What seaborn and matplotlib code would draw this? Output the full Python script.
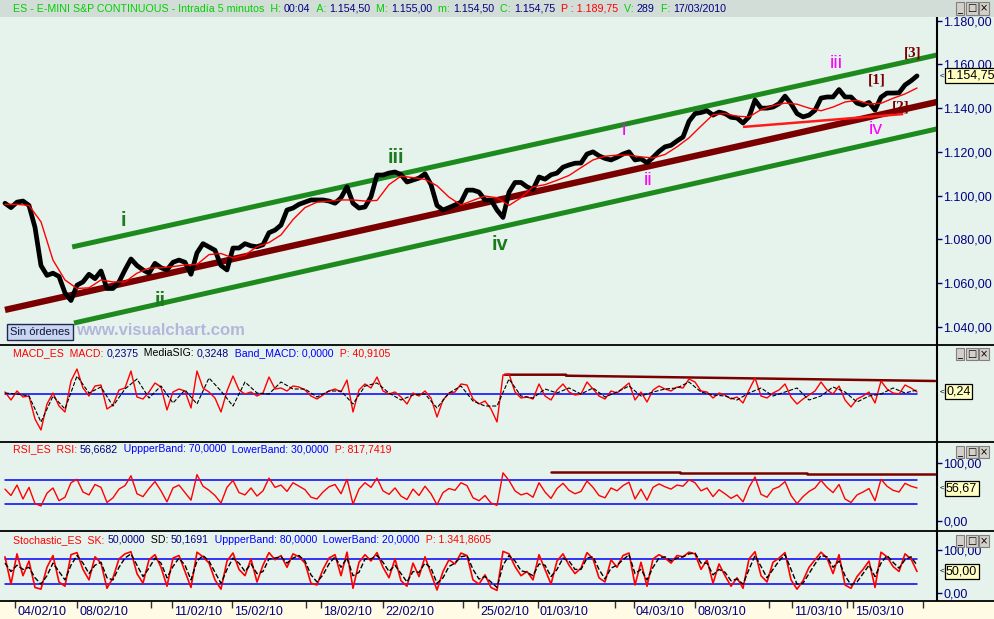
import numpy as np
import matplotlib
matplotlib.use("Agg")
import matplotlib.pyplot as plt
import seaborn as sns
from matplotlib.ticker import FuncFormatter
from matplotlib.text import Annotation
from matplotlib.lines import Line2D
from matplotlib.patches import Rectangle
import matplotlib.transforms as mtrans

# ---- data (one bar = 6 px, 5-minute ES bars) ----
close = [1096.5, 1094.5, 1097.0, 1097.5, 1095.5, 1085.5, 1068.0, 1063.5, 1064.5, 1063.0,
         1055.5, 1052.0, 1059.0, 1060.5, 1064.0, 1062.0, 1065.5, 1057.5, 1057.5, 1060.5,
         1066.0, 1071.0, 1068.0, 1066.0, 1064.5, 1069.0, 1067.0, 1066.0, 1069.5, 1070.5,
         1069.5, 1064.0, 1073.8, 1078.0, 1076.5, 1075.0, 1068.0, 1066.0, 1076.0, 1076.0,
         1078.0, 1077.0, 1076.6, 1077.5, 1083.0, 1084.2, 1086.5, 1093.4, 1094.3, 1096.0,
         1097.0, 1098.0, 1098.0, 1098.0, 1097.5, 1096.5, 1099.0, 1104.0, 1096.5, 1094.3,
         1094.8, 1099.5, 1109.4, 1109.4, 1110.3, 1110.8, 1109.6, 1106.2, 1107.1, 1108.0,
         1110.0, 1105.0, 1095.5, 1093.4, 1094.5, 1095.7, 1097.0, 1102.5, 1102.5, 1101.6,
         1098.0, 1098.0, 1093.4, 1090.0, 1101.5, 1106.0, 1106.0, 1104.0, 1102.8, 1108.5,
         1107.5, 1109.5, 1110.3, 1113.0, 1114.0, 1114.8, 1114.9, 1119.0, 1120.0, 1118.2,
         1117.0, 1116.3, 1117.5, 1119.0, 1120.0, 1116.3, 1116.8, 1115.0, 1117.5, 1120.2,
         1122.3, 1123.0, 1125.0, 1126.8, 1134.0, 1137.5, 1138.0, 1138.8, 1136.8, 1138.2,
         1137.5, 1135.8, 1135.5, 1133.2, 1136.0, 1143.7, 1140.0, 1140.0, 1140.5, 1142.0,
         1145.5, 1142.0, 1137.5, 1136.0, 1136.8, 1139.0, 1144.6, 1145.1, 1145.1, 1148.5,
         1145.1, 1145.1, 1142.3, 1141.4, 1142.6, 1139.1, 1145.0, 1146.9, 1146.9, 1147.0,
         1150.6, 1152.5, 1154.75]

# moving average, read every second bar
avg = [1096.0, 1096.0, 1095.5, 1088.0, 1070.5, 1061.4, 1057.5, 1057.8, 1061.4, 1060.5,
       1060.5, 1064.5, 1066.8, 1067.0, 1067.5, 1068.3, 1068.5, 1073.0, 1073.5, 1071.5,
       1072.8, 1076.6, 1078.5, 1082.0, 1089.0, 1094.5, 1097.0, 1097.5, 1098.0, 1098.0,
       1097.5, 1097.8, 1105.0, 1108.9, 1108.2, 1107.4, 1104.5, 1099.3, 1095.7, 1097.8,
       1099.8, 1099.0, 1095.5, 1099.0, 1104.0, 1105.0, 1107.0, 1109.2, 1112.8, 1116.3,
       1118.0, 1118.5, 1118.5, 1117.7, 1117.2, 1118.8, 1122.3, 1126.4, 1131.8, 1137.0,
       1137.5, 1136.3, 1136.0, 1139.3, 1141.1, 1142.3, 1141.8, 1140.0, 1138.8, 1140.5,
       1142.8, 1143.6, 1141.9, 1142.2, 1144.5, 1146.5, 1149.2]

macd = [0.2, -0.6, 0.3, -0.3, -0.2, -2.5, -3.6, -1.0, 0.1, -1.2,
        -1.8, 1.3, 2.5, 0.6, -0.2, 0.8, 0.9, -1.5, -1.1, 0.4,
        0.6, 2.3, -0.3, -0.5, 0.2, 1.1, 0.7, -1.6, 0.2, 0.5,
        0.3, -1.4, 2.3, 0.6, 0.2, -0.4, -1.8, 0.3, 1.8, 0.4,
        0.0, 0.2, -0.2, 0.1, 1.7, 0.5, 0.6, 0.3, 0.8, 0.7,
        0.4, -0.2, -0.5, -0.1, 0.3, 0.5, 0.2, 1.4, -1.8, 0.4,
        1.0, 0.6, 1.7, 0.3, 0.0, 0.2, -0.3, -1.0, 0.1, -0.2,
        0.3, -0.4, -2.3, -0.6, 0.1, 0.2, 1.0, 0.9, -0.5, -1.0,
        -0.7, -1.5, -2.8, 1.9, 2.0, 0.2, -0.4, -0.3, -0.5, 1.0,
        -0.2, -0.6, 0.4, 1.0, 0.2, -0.1, 0.0, 1.2, 0.5, -0.2,
        -0.5, 0.3, 0.1, 0.6, 1.1, -0.6, 0.2, -0.8, 0.4, 0.8,
        0.5, 0.3, 0.7, 0.6, 1.5, 1.2, 0.3, 0.2, -0.4, 0.1,
        -0.1, -0.5, -0.3, -0.9, 0.4, 1.6, -0.2, -0.4, 0.1, 0.4,
        1.0, -0.3, -1.0, -0.5, -0.1, 0.3, 1.2, 0.4, 0.0, 0.8,
        -0.6, -1.3, -0.5, -0.2, 0.2, -0.9, 1.3, 0.5, 0.1, 0.0,
        0.9, 0.6, 0.2]

# signal line, read every second bar
macd_sig = [0.1, 0.0, -0.2, -2.8, -0.2, -1.5, 1.8, 0.1, 0.7, -1.2,
            0.5, 1.5, -0.4, 0.8, -0.9, 0.4, -1.0, 1.6, 0.3, -1.2,
            1.2, 0.1, 0.0, 1.2, 0.5, 0.5, -0.3, 0.3, 0.3, -1.0,
            0.8, 1.1, 0.1, -0.6, -0.1, 0.0, -1.4, 0.1, 0.8, -0.7,
            -1.2, -1.2, 1.5, -0.2, -0.4, 0.5, 0.1, 0.6, 0.0, 0.6,
            -0.3, 0.2, 0.8, -0.2, 0.2, 0.5, 0.6, 1.2, 0.2, -0.1,
            -0.2, -0.6, 0.1, 0.6, -0.2, 0.2, 0.6, -0.6, -0.2, 0.7,
            0.2, -0.8, -0.2, 0.0, 0.6, 0.1, 0.4]

rsi = [55, 44, 62, 38, 58, 30, 26, 48, 57, 35,
       41, 66, 72, 50, 45, 63, 58, 32, 40, 55,
       61, 78, 47, 42, 56, 68, 52, 33, 57, 62,
       49, 36, 80, 60, 53, 44, 31, 58, 70, 49,
       45, 57, 43, 52, 74, 58, 62, 51, 66, 60,
       54, 41, 38, 50, 59, 63, 47, 72, 29, 55,
       66, 58, 74, 52, 46, 57, 43, 37, 55, 44,
       60, 47, 28, 49, 56, 53, 66, 61, 40, 35,
       44, 31, 27, 83, 70, 52, 45, 48, 41, 66,
       50, 39, 56, 65, 53, 47, 51, 69, 58, 44,
       40, 57, 52, 61, 67, 38, 55, 36, 58, 64,
       59, 55, 62, 60, 71, 66, 52, 57, 42, 54,
       47, 39, 45, 33, 58, 76, 46, 41, 55, 59,
       68, 44, 30, 42, 51, 57, 70, 58, 49, 63,
       38, 32, 45, 50, 56, 35, 72, 60, 53, 50,
       65, 60, 57]

stoch_k = [85, 20, 92, 40, 75, 12, 8, 60, 88, 25,
           15, 90, 95, 55, 30, 85, 70, 10, 35, 80,
           92, 97, 45, 22, 78, 90, 60, 15, 82, 88,
           50, 12, 96, 85, 70, 30, 8, 75, 94, 55,
           40, 80, 25, 65, 95, 78, 88, 60, 92, 85,
           70, 22, 18, 55, 82, 90, 40, 96, 10, 72,
           90, 75, 95, 60, 35, 80, 28, 15, 70, 38,
           85, 45, 6, 50, 78, 68, 94, 88, 30, 20,
           42, 12, 5, 98, 92, 62, 40, 50, 30, 90,
           55, 20, 75, 92, 65, 45, 58, 95, 80, 35,
           25, 78, 60, 88, 94, 18, 72, 15, 80, 90,
           82, 70, 88, 85, 96, 92, 55, 78, 22, 68,
           40, 15, 35, 10, 80, 97, 40, 25, 72, 82,
           95, 30, 8, 28, 60, 78, 96, 82, 45, 90,
           18, 10, 38, 55, 75, 12, 96, 85, 62, 50,
           92, 80, 50]

stoch_d = [70, 50, 65, 55, 60, 35, 20, 40, 70, 50,
           30, 65, 88, 70, 45, 65, 72, 35, 30, 60,
           82, 92, 65, 38, 58, 82, 70, 35, 62, 82,
           65, 30, 75, 88, 75, 48, 22, 55, 82, 70,
           50, 68, 45, 50, 80, 82, 85, 70, 82, 88,
           75, 42, 25, 42, 68, 85, 60, 82, 40, 48,
           80, 80, 88, 72, 50, 65, 45, 25, 50, 48,
           70, 58, 22, 35, 62, 70, 85, 88, 55, 32,
           38, 25, 12, 65, 88, 75, 52, 48, 40, 68,
           65, 38, 55, 82, 75, 55, 55, 82, 85, 55,
           32, 58, 65, 78, 90, 45, 55, 30, 60, 82,
           85, 75, 82, 85, 92, 94, 70, 70, 42, 55,
           48, 28, 32, 20, 55, 88, 62, 35, 55, 75,
           90, 55, 20, 22, 45, 68, 88, 85, 60, 75,
           40, 18, 25, 45, 65, 38, 70, 88, 72, 58,
           78, 85, 65]

# channel lines and support (bar index, price)
chan_top_x, chan_top_y = [11.2, 155.3], [1076.5, 1164.3]
chan_mid_x, chan_mid_y = [0.0, 155.3], [1047.7, 1142.8]
chan_bot_x, chan_bot_y = [11.5, 155.3], [1041.7, 1130.5]
support_x, support_y = [123.0, 149.7], [1131.4, 1137.3]
macd_res_x, macd_res_y = [83.3, 93.5, 93.5, 155.0], [1.93, 1.93, 1.83, 1.3]
rsi_res_x, rsi_res_y = [91.0, 112.5, 112.5, 133.7, 133.7, 155.0], [85.0, 85.0, 83.3, 83.3, 81.6, 81.6]

wave_txt = ['i', 'ii', 'iii', 'iv', 'i', 'ii', 'iii', 'iv', '[1]', '[2]', '[3]']
wave_x = [19.7, 25.8, 65.2, 82.5, 103.2, 107.2, 138.5, 145.2, 145.3, 149.3, 151.3]
wave_y = [1088.8, 1052.2, 1117.2, 1077.4, 1129.6, 1106.7, 1160.2, 1130.0, 1152.9, 1140.5, 1165.2]
wave_kind = ['g', 'g', 'g', 'g', 'm', 'm', 'm', 'm', 'r', 'r', 'r']

date_ticks = [1.7, 12.0, 27.8, 37.8, 52.7, 63.0, 78.8, 88.8, 104.8, 115.0, 131.2, 141.3]
date_labels = ['04/02/10', '08/02/10', '11/02/10', '15/02/10', '18/02/10', '22/02/10',
               '25/02/10', '01/03/10', '04/03/10', '08/03/10', '11/03/10', '15/03/10']
date_minor = [24.3, 50.2, 76.3, 101.7, 127.3, 140.3, 153.0]

# ---- style ----
sns.set_style("white")
plt.rcParams['font.family'] = ['Liberation Sans', 'DejaVu Sans']

W, H = 994, 619
BG = '#e6f3ed'
NAVY = '#000080'
GREEN = '#00d000'
RED = '#ff0000'
BLUE = '#0000ff'
MAROON = '#7a0000'
CH_GREEN = '#1c8a1c'

fig = plt.figure(figsize=(W / 100, H / 100), dpi=100, facecolor=BG)


def box(top, bottom, left=0, right=937):
    return [left / W, 1 - bottom / H, (right - left) / W, (bottom - top) / H]


def es_fmt(v, dec=2):
    s = f"{v:,.{dec}f}"
    return s.replace(',', 'X').replace('.', ',').replace('X', '.')


ax = fig.add_axes(box(17, 345))
ax_macd = fig.add_axes(box(345, 442))
ax_rsi = fig.add_axes(box(442, 531))
ax_st = fig.add_axes(box(531, 601))
ax_dt = fig.add_axes(box(601, 619, 0, 994))

xlim = (-0.83, 155.33)
for a in (ax, ax_macd, ax_rsi, ax_st):
    a.set_facecolor(BG)
    a.set_xlim(*xlim)
    a.set_xticks([])
    for s in ('left', 'top', 'bottom'):
        a.spines[s].set_visible(False)
    a.spines['right'].set_color('black')
    a.spines['right'].set_linewidth(1.5)
    a.yaxis.tick_right()
    a.tick_params(axis='y', direction='out', length=3.5, width=1, colors=NAVY,
                  labelsize=9, pad=1, labelcolor=NAVY)

idx = np.arange(len(close))
idx2 = np.arange(len(avg)) * 2

# ---- main price panel ----
ax.plot(chan_mid_x, chan_mid_y, color=MAROON, lw=4.6, solid_capstyle='butt')
ax.plot(chan_top_x, chan_top_y, color=CH_GREEN, lw=3.6, solid_capstyle='butt')
ax.plot(chan_bot_x, chan_bot_y, color=CH_GREEN, lw=3.6, solid_capstyle='butt')
ax.plot(support_x, support_y, color='#ff1a1a', lw=1.8, solid_capstyle='butt')
sns.lineplot(x=idx, y=close, ax=ax, color='black', lw=3.4, estimator=None, sort=False, legend=False)
sns.lineplot(x=idx2, y=avg, ax=ax, color='#ff0000', lw=1.0, estimator=None, sort=False, legend=False)
ax.set_ylim(1031.65, 1181.69)
ax.set_yticks(np.arange(1040, 1181, 20))
ax.yaxis.set_major_formatter(FuncFormatter(lambda v, p: es_fmt(v)))
ax.set_xlabel('')
ax.set_ylabel('')

styles = {
    'g': dict(color='#1e7a1e', fontsize=14.5, fontweight='bold'),
    'm': dict(color='#ff00ff', fontsize=14),
    'r': dict(color=MAROON, fontsize=11, fontweight='bold', family='Liberation Serif'),
}
for t, x, y, k in zip(wave_txt, wave_x, wave_y, wave_kind):
    ax.text(x, y, t, ha='center', va='center', **styles[k])

ax.text(10 / 937, (345 - 332) / 328, 'Sin órdenes', transform=ax.transAxes, fontsize=8,
        color='#101040', va='center', ha='left',
        bbox=dict(boxstyle='square,pad=0.25', fc='#c8d6f0', ec='#202850', lw=1))
ax.text(76 / 937, (345 - 330) / 328, 'www.visualchart.com', transform=ax.transAxes,
        fontsize=12, fontweight='bold', color='#b3b7dc', va='center', ha='left')

# ---- MACD panel ----
ax_macd.plot(macd_res_x, macd_res_y, color=MAROON, lw=1.8)
ax_macd.plot([0, len(macd) - 1], [0, 0], color=BLUE, lw=1.1)
sns.lineplot(x=idx, y=macd, ax=ax_macd, color=RED, lw=1.0, estimator=None, sort=False, legend=False)
sns.lineplot(x=idx2, y=macd_sig, ax=ax_macd, color='black', lw=0.8, estimator=None, sort=False,
             legend=False, linestyle='--')
ax_macd.set_ylim(-4.8, 4.9)
ax_macd.set_yticks([])
ax_macd.set_xlabel('')
ax_macd.set_ylabel('')

# ---- RSI panel ----
ax_rsi.plot(rsi_res_x, rsi_res_y, color=MAROON, lw=1.8)
for lvl in (70, 30):
    ax_rsi.plot([0, len(rsi) - 1], [lvl, lvl], color=BLUE, lw=1.1)
sns.lineplot(x=idx, y=rsi, ax=ax_rsi, color=RED, lw=1.0, estimator=None, sort=False, legend=False)
ax_rsi.set_ylim(-17.2, 136.2)
ax_rsi.set_yticks([0, 100])
ax_rsi.yaxis.set_major_formatter(FuncFormatter(lambda v, p: es_fmt(v)))
ax_rsi.set_xlabel('')
ax_rsi.set_ylabel('')

# ---- Stochastic panel ----
for lvl in (80, 20):
    ax_st.plot([0, len(stoch_k) - 1], [lvl, lvl], color=BLUE, lw=1.1)
sns.lineplot(x=idx, y=stoch_k, ax=ax_st, color=RED, lw=1.2, estimator=None, sort=False, legend=False)
sns.lineplot(x=idx, y=stoch_d, ax=ax_st, color='black', lw=1.0, estimator=None, sort=False,
             legend=False, linestyle='--')
ax_st.set_ylim(-20.2, 146.4)
ax_st.set_yticks([0, 100])
ax_st.yaxis.set_major_formatter(FuncFormatter(lambda v, p: es_fmt(v)))
ax_st.set_xlabel('')
ax_st.set_ylabel('')

# ---- date strip ----
ax_dt.set_facecolor('#fffbe4')
ax_dt.set_xlim(xlim[0], xlim[0] + (xlim[1] - xlim[0]) * 994 / 937)
ax_dt.set_ylim(0, 1)
ax_dt.set_yticks([])
for s in ax_dt.spines.values():
    s.set_visible(False)
ax_dt.set_xticks(date_ticks + date_minor)
ax_dt.set_xticklabels([])
ax_dt.tick_params(axis='x', direction='in', length=5, width=1, colors='#303030', top=True, bottom=False)
for x, lab in zip(date_ticks, date_labels):
    ax_dt.text(x + 0.35, 0.38, lab, fontsize=9, color=NAVY, ha='left', va='center')

# ---- separators ----
for yy in (345, 442, 531, 601):
    fig.add_artist(Line2D([0, 1], [1 - yy / H, 1 - yy / H], color='black', lw=1.3))

# ---- title bar ----
fig.add_artist(Rectangle((0, 1 - 17 / H), 1, 17 / H, transform=fig.transFigure,
                         fc='#d3ddd8', ec='none', zorder=0.5))


def rich(x_px, y_px, parts, size=7.6):
    t = fig.text(x_px / W, 1 - y_px / H, parts[0][0], color=parts[0][1], fontsize=size,
                 va='center', ha='left')
    for s, c in parts[1:]:
        t = fig.add_artist(Annotation(s, xy=(1, 0), xycoords=t, va='bottom', ha='left',
                                      color=c, fontsize=size))


rich(13, 8.5, [("ES - E-MINI S&P CONTINUOUS - Intradía 5 minutos  H: ", GREEN), ("00:04", NAVY),
               ("  A: ", GREEN), ("1.154,50", NAVY), ("  M: ", GREEN), ("1.155,00", NAVY),
               ("  m: ", GREEN), ("1.154,50", NAVY), ("  C: ", GREEN), ("1.154,75", NAVY),
               ("  P : 1.189,75", RED), ("  V: ", GREEN), ("289", NAVY), ("  F: ", GREEN),
               ("17/03/2010", NAVY)], size=7.7)
rich(13, 353.5, [("MACD_ES  MACD: ", RED), ("0,2375", NAVY), ("  MediaSIG: ", 'black'),
                 ("0,3248", NAVY), ("  Band_MACD: 0,0000", BLUE), ("  P: 40,9105", RED)])
rich(13, 449.5, [("RSI_ES  RSI: ", RED), ("56,6682", NAVY), ("  UppperBand: 70,0000", BLUE),
                 ("  LowerBand: 30,0000", BLUE), ("  P: 817,7419", RED)])
rich(13, 540, [("Stochastic_ES  SK: ", RED), ("50,0000", NAVY), ("  SD: ", 'black'),
               ("50,1691", NAVY), ("  UppperBand: 80,0000", BLUE), ("  LowerBand: 20,0000", BLUE),
               ("  P: 1.341,8605", RED)])

# window buttons
for yb in (8.5, 354, 452, 541):
    for xb, g in ((960, '_'), (972, '□'), (984, '×')):
        fig.text(xb / W, 1 - yb / H, g, fontsize=7, ha='center', va='center', color='black',
                 family='DejaVu Sans',
                 bbox=dict(boxstyle='square,pad=0.12', fc='#d4d0c8', ec='#808080', lw=0.8))

# last value boxes
for a, val, txt in ((ax, 1154.75, '1.154,75'), (ax_macd, 0.24, '0,24'),
                    (ax_rsi, 56.67, '56,67'), (ax_st, 50.0, '50,00')):
    tr = mtrans.blended_transform_factory(a.transAxes, a.transData)
    a.text(1.0 + 5 / 937, val, '<', transform=tr, fontsize=6, color='black', va='center',
           ha='center', clip_on=False)
    a.text(1.0 + 9 / 937, val, txt, transform=tr, fontsize=9, color='black', va='center',
           ha='left', clip_on=False, zorder=10,
           bbox=dict(boxstyle='square,pad=0.12', fc='#ffffc4', ec='black', lw=0.9))

fig.savefig('out.png', dpi=100, facecolor=BG)
